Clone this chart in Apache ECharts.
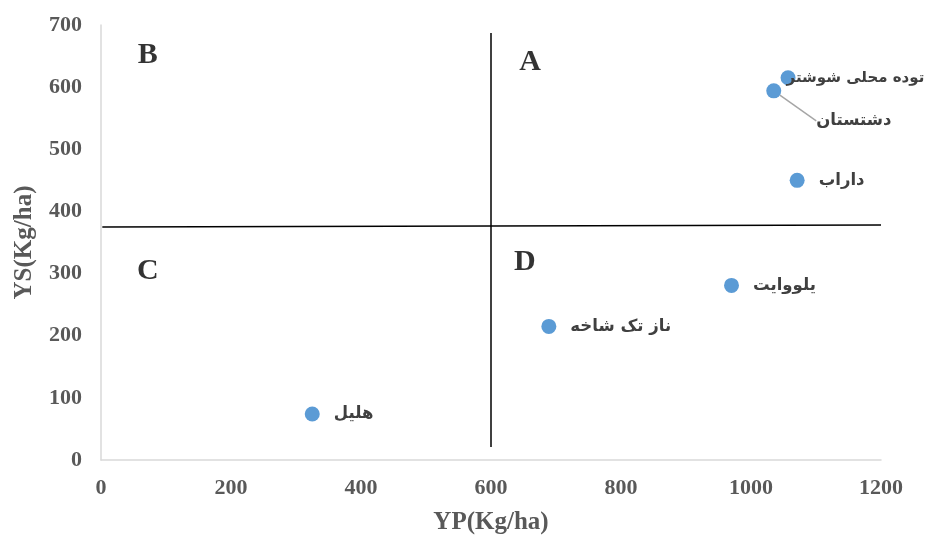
<!DOCTYPE html>
<html><head><meta charset="utf-8">
<script src="https://cdn.jsdelivr.net/npm/echarts@6/dist/echarts.min.js"></script>
<style>html,body{margin:0;padding:0;background:#fff}#c{width:926px;height:537px}</style>
</head><body><div id="c"></div>
<script>
const names = ['هلیل','ناز تک شاخه','یلووایت','داراب','دشتستان','توده محلی شوشتر'];
const yp = [325, 689, 970, 1071, 1035, 1057];
const ys = [74, 215, 281, 450, 594, 615];
const quadNames = ['A','B','C','D'];
const quadX = [660, 72, 72, 652];
const quadY = [640, 652, 304, 319];
const vLine = [[600, 21], [600, 687]];
const hLine = [[2, 375], [1200, 378]];

const chart = echarts.init(document.getElementById('c'));
const serif = '"Liberation Serif","Times New Roman",serif';
const pts = names.map((n,i)=>{
  const d = {name:n, value:[yp[i], ys[i]]};
  if (i===4) d.labelLine = {show:true};
  if (i===5) d.label = {distance:-9, fontSize:15};
  return d;
});
chart.setOption({
  animation:false,
  grid:{left:101, right:45, top:25, bottom:77, containLabel:false, outerBoundsMode:'none'},
  xAxis:{type:'value', min:0, max:1200, interval:200,
    axisLine:{show:true, lineStyle:{color:'#d9d9d9', width:1.5}}, axisTick:{show:false}, splitLine:{show:false},
    axisLabel:{color:'#595959', fontFamily:serif, fontWeight:'bold', fontSize:22, margin:17, formatter:v=>String(v)},
    name:'YP(Kg/ha)', nameLocation:'middle', nameGap:50,
    nameTextStyle:{color:'#595959', fontFamily:serif, fontWeight:'bold', fontSize:25}},
  yAxis:{type:'value', min:0, max:700, interval:100,
    axisLine:{show:true, lineStyle:{color:'#d9d9d9', width:1.5}}, axisTick:{show:false}, splitLine:{show:false},
    axisLabel:{color:'#595959', fontFamily:serif, fontWeight:'bold', fontSize:22, margin:19, formatter:v=>String(v)},
    name:'YS(Kg/ha)', nameLocation:'middle', nameGap:64,
    nameTextStyle:{color:'#595959', fontFamily:serif, fontWeight:'bold', fontSize:25}},
  series:[
    {type:'scatter', symbolSize:15, itemStyle:{color:'#5b9bd5', opacity:1},
     data:pts,
     label:{show:true, position:'right', distance:14, formatter:'{b}', color:'#404040',
       fontFamily:'"DejaVu Sans",sans-serif', fontWeight:'bold', fontSize:16.5},
     labelLine:{show:false, lineStyle:{color:'#a6a6a6', width:1.5}},
     labelLayout:function(p){
       if (p.dataIndex===4) return {dx:21, dy:30};
       return {};
     }},
    {type:'line', data:vLine, symbol:'none', lineStyle:{color:'#000', width:1.5}, silent:true},
    {type:'line', data:hLine, symbol:'none', lineStyle:{color:'#000', width:1.5}, silent:true},
    {type:'scatter', symbolSize:0, silent:true,
     data:quadNames.map((n,i)=>({name:n, value:[quadX[i], quadY[i]]})),
     label:{show:true, position:'inside', formatter:'{b}', color:'#000',
       fontFamily:serif, fontWeight:'bold', fontSize:30}}
  ]
});
</script></body></html>
